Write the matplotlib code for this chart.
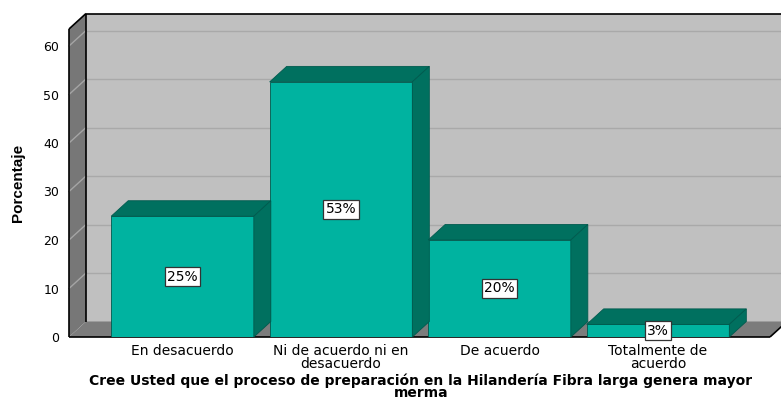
import matplotlib
matplotlib.use('Agg')
import matplotlib.pyplot as plt
from matplotlib.patches import Polygon

categories = ["En desacuerdo", "Ni de acuerdo ni en\ndesacuerdo", "De acuerdo", "Totalmente de\nacuerdo"]
values = [24.9, 52.6, 20.0, 2.6]
labels = ["25%", "53%", "20%", "3%"]
yticks = [0, 10, 20, 30, 40, 50, 60]
xlabel = "Cree Usted que el proceso de preparación en la Hilandería Fibra larga genera mayor\nmerma"
ylabel = "Porcentaje"

W, H = 781, 401
fig = plt.figure(figsize=(W / 100, H / 100), dpi=100)
left_px, right_px, bottom_px, top_px = 69, 770, 337, 29
ax = fig.add_axes([left_px / W, (H - bottom_px) / H, (right_px - left_px) / W, (bottom_px - top_px) / H])
step_px = 158.5
x0_px = 182.5
ppu = 4.85
xmin = (left_px - x0_px) / step_px
xmax = (right_px - x0_px) / step_px
ymax = (bottom_px - top_px) / ppu
ax.set_xlim(xmin, xmax)
ax.set_ylim(0, ymax)
ddx = 17 / step_px
ddy = 15.5 / ppu
ax.patch.set_visible(False)
for s in ax.spines.values():
    s.set_visible(False)

def poly(pts, fc, ec='none', lw=0.0, z=0):
    p = Polygon(pts, closed=True, facecolor=fc, edgecolor=ec, linewidth=lw, zorder=z, clip_on=False)
    ax.add_patch(p)

# back wall, left wall, floor
poly([(xmin + ddx, ddy), (xmax + ddx, ddy), (xmax + ddx, ymax + ddy), (xmin + ddx, ymax + ddy)], '#c0c0c0', z=0)
poly([(xmin, 0), (xmin, ymax), (xmin + ddx, ymax + ddy), (xmin + ddx, ddy)], '#777777', z=0.5)
poly([(xmin, 0), (xmax, 0), (xmax + ddx, ddy), (xmin + ddx, ddy)], '#7c7c7c', z=0.5)

# gridlines
for t in yticks[1:]:
    ax.plot([xmin + ddx, xmax + ddx], [t + ddy, t + ddy], color='#a9a9a9', lw=1, zorder=1, clip_on=False)
    ax.plot([xmin, xmin + ddx], [t, t + ddy], color='#a5a5a5', lw=1, zorder=1, clip_on=False)

# frame edges
k = dict(color='black', lw=1.2, zorder=2, clip_on=False, solid_capstyle='butt')
ax.plot([xmin + ddx, xmax + ddx], [ymax + ddy, ymax + ddy], **k)
ax.plot([xmin, xmin + ddx], [ymax, ymax + ddy], **k)
ax.plot([xmin + ddx, xmin + ddx], [ddy, ymax + ddy], **k)
ax.plot([xmin, xmin], [0, ymax], **k)
ax.plot([xmin, xmax], [0, 0], **k)
ax.plot([xmax, xmax + ddx], [0, ddy], **k)

# bars
xs = list(range(len(values)))
w = 0.9
front = '#00b3a0'
topc = '#00705f'
sidec = '#00705f'
ax.bar(xs, values, width=w, color=front, edgecolor='#005a4e', linewidth=0.6, zorder=3)
for x, v, lab in zip(xs, values, labels):
    poly([(x - w / 2, v), (x + w / 2, v), (x + w / 2 + ddx, v + ddy), (x - w / 2 + ddx, v + ddy)], topc, '#005a4e', 0.6, 3)
    poly([(x + w / 2, 0), (x + w / 2, v), (x + w / 2 + ddx, v + ddy), (x + w / 2 + ddx, ddy)], sidec, '#005a4e', 0.6, 3)
    ax.text(x, v / 2, lab, ha='center', va='center', fontsize=10, family='DejaVu Sans', zorder=5,
            bbox=dict(boxstyle='square,pad=0.18', fc='white', ec='#333333', lw=0.9))

ax.set_yticks(yticks)
ax.set_yticklabels([str(t) for t in yticks], fontsize=9, family='DejaVu Sans')
ax.set_xticks(xs)
ax.set_xticklabels(categories, fontsize=10, family='DejaVu Sans', linespacing=0.95)
ax.tick_params(axis='y', length=0, pad=7)
ax.tick_params(axis='x', length=0, pad=5)

fig.text(421 / W, 1 - 373 / H, xlabel, ha='center', va='top', fontsize=10, fontweight='bold',
         family='DejaVu Sans', linespacing=0.85)
fig.text(18 / W, 1 - 183 / H, ylabel, ha='center', va='center', rotation=90, fontsize=11,
         fontweight='bold', family='Liberation Sans')

fig.savefig('out.png', dpi=100)
